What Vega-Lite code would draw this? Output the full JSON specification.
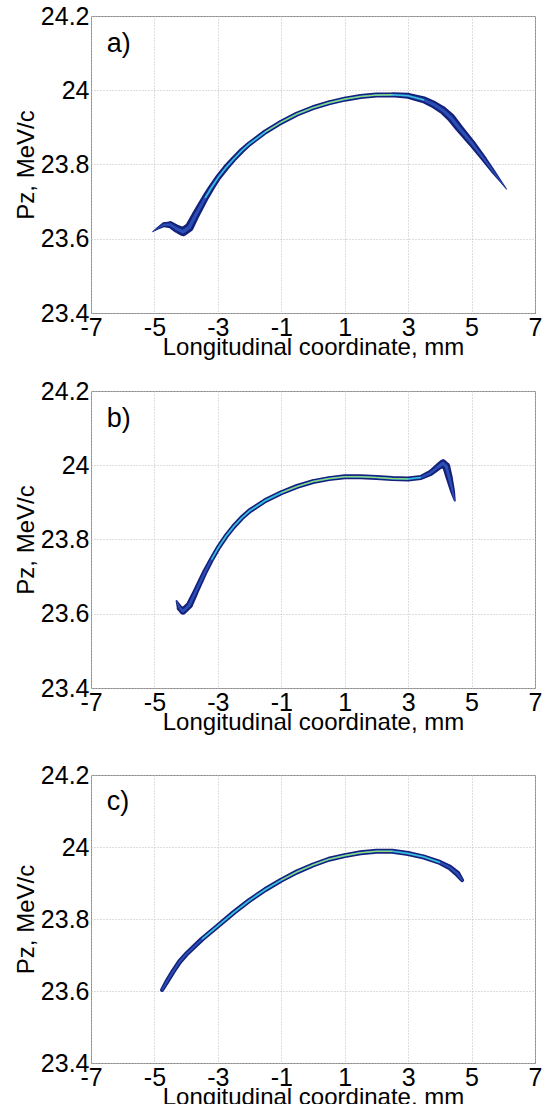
{
  "$schema": "https://vega.github.io/schema/vega-lite/v6.json",
  "padding": {"left": 13, "top": 3, "right": 1, "bottom": 0},
  "spacing": 18,
  "datasets": {
    "a": [
      {"i": 1, "x": -5.05, "y": 23.619, "w": 1},
      {"i": 2, "x": -4.9, "y": 23.628, "w": 2.5},
      {"i": 3, "x": -4.7, "y": 23.638, "w": 5},
      {"i": 4, "x": -4.5, "y": 23.638, "w": 7},
      {"i": 5, "x": -4.3, "y": 23.627, "w": 8},
      {"i": 6, "x": -4.1, "y": 23.619, "w": 9},
      {"i": 7, "x": -3.9, "y": 23.631, "w": 9},
      {"i": 8, "x": -3.7, "y": 23.664, "w": 8},
      {"i": 9, "x": -3.4, "y": 23.71, "w": 7},
      {"i": 10, "x": -3.2, "y": 23.738, "w": 6.5},
      {"i": 11, "x": -3.0, "y": 23.764, "w": 6},
      {"i": 12, "x": -2.75, "y": 23.791, "w": 6},
      {"i": 13, "x": -2.5, "y": 23.815, "w": 5.5},
      {"i": 14, "x": -2.25, "y": 23.837, "w": 5.5},
      {"i": 15, "x": -2.0, "y": 23.856, "w": 5},
      {"i": 16, "x": -1.5, "y": 23.888, "w": 5},
      {"i": 17, "x": -1.0, "y": 23.914, "w": 5},
      {"i": 18, "x": -0.5, "y": 23.936, "w": 5},
      {"i": 19, "x": 0.0, "y": 23.953, "w": 5},
      {"i": 20, "x": 0.5, "y": 23.966, "w": 5},
      {"i": 21, "x": 1.0, "y": 23.976, "w": 5},
      {"i": 22, "x": 1.5, "y": 23.983, "w": 5},
      {"i": 23, "x": 2.0, "y": 23.987, "w": 5},
      {"i": 24, "x": 2.5, "y": 23.988, "w": 5},
      {"i": 25, "x": 3.0, "y": 23.985, "w": 6},
      {"i": 26, "x": 3.5, "y": 23.974, "w": 7},
      {"i": 27, "x": 3.8, "y": 23.962, "w": 7.5},
      {"i": 28, "x": 4.1, "y": 23.946, "w": 8},
      {"i": 29, "x": 4.35, "y": 23.926, "w": 8.5},
      {"i": 30, "x": 4.6, "y": 23.899, "w": 8},
      {"i": 31, "x": 5.0, "y": 23.858, "w": 7},
      {"i": 32, "x": 5.4, "y": 23.814, "w": 5.5},
      {"i": 33, "x": 5.7, "y": 23.779, "w": 4},
      {"i": 34, "x": 5.95, "y": 23.751, "w": 2},
      {"i": 35, "x": 6.1, "y": 23.734, "w": 1}
    ],
    "b": [
      {"i": 1, "x": -4.3, "y": 23.634, "w": 2},
      {"i": 2, "x": -4.2, "y": 23.615, "w": 6},
      {"i": 3, "x": -4.1, "y": 23.607, "w": 7},
      {"i": 4, "x": -3.9, "y": 23.623, "w": 7},
      {"i": 5, "x": -3.7, "y": 23.659, "w": 6},
      {"i": 6, "x": -3.4, "y": 23.714, "w": 5.5},
      {"i": 7, "x": -3.2, "y": 23.746, "w": 5},
      {"i": 8, "x": -3.0, "y": 23.776, "w": 5},
      {"i": 9, "x": -2.75, "y": 23.808, "w": 5},
      {"i": 10, "x": -2.5, "y": 23.835, "w": 5},
      {"i": 11, "x": -2.25, "y": 23.858, "w": 5},
      {"i": 12, "x": -2.0, "y": 23.877, "w": 5},
      {"i": 13, "x": -1.5, "y": 23.905, "w": 5},
      {"i": 14, "x": -1.0, "y": 23.926, "w": 5},
      {"i": 15, "x": -0.5, "y": 23.943, "w": 5},
      {"i": 16, "x": 0.0, "y": 23.956, "w": 5},
      {"i": 17, "x": 0.5, "y": 23.964, "w": 5},
      {"i": 18, "x": 1.0, "y": 23.969, "w": 5},
      {"i": 19, "x": 1.5, "y": 23.969, "w": 5},
      {"i": 20, "x": 2.0, "y": 23.967, "w": 5},
      {"i": 21, "x": 2.5, "y": 23.964, "w": 5},
      {"i": 22, "x": 3.0, "y": 23.963, "w": 5},
      {"i": 23, "x": 3.4, "y": 23.967, "w": 5},
      {"i": 24, "x": 3.7, "y": 23.979, "w": 6},
      {"i": 25, "x": 3.95, "y": 23.996, "w": 7},
      {"i": 26, "x": 4.1, "y": 24.005, "w": 8},
      {"i": 27, "x": 4.2, "y": 23.997, "w": 8},
      {"i": 28, "x": 4.3, "y": 23.965, "w": 7},
      {"i": 29, "x": 4.4, "y": 23.93, "w": 5},
      {"i": 30, "x": 4.47, "y": 23.905, "w": 2}
    ],
    "c": [
      {"i": 1, "x": -4.76, "y": 23.603, "w": 4},
      {"i": 2, "x": -4.6, "y": 23.627, "w": 5},
      {"i": 3, "x": -4.4, "y": 23.656, "w": 5},
      {"i": 4, "x": -4.2, "y": 23.682, "w": 5},
      {"i": 5, "x": -4.0, "y": 23.702, "w": 5},
      {"i": 6, "x": -3.5, "y": 23.744, "w": 5},
      {"i": 7, "x": -3.0, "y": 23.781, "w": 5},
      {"i": 8, "x": -2.5, "y": 23.818, "w": 5},
      {"i": 9, "x": -2.0, "y": 23.852, "w": 5},
      {"i": 10, "x": -1.5, "y": 23.882, "w": 5},
      {"i": 11, "x": -1.0, "y": 23.908, "w": 5},
      {"i": 12, "x": -0.5, "y": 23.931, "w": 5},
      {"i": 13, "x": 0.0, "y": 23.95, "w": 5},
      {"i": 14, "x": 0.5, "y": 23.966, "w": 5},
      {"i": 15, "x": 1.0, "y": 23.976, "w": 5},
      {"i": 16, "x": 1.5, "y": 23.984, "w": 5},
      {"i": 17, "x": 2.0, "y": 23.988, "w": 5},
      {"i": 18, "x": 2.5, "y": 23.988, "w": 5},
      {"i": 19, "x": 3.0, "y": 23.982, "w": 5},
      {"i": 20, "x": 3.5, "y": 23.972, "w": 5},
      {"i": 21, "x": 4.0, "y": 23.957, "w": 5},
      {"i": 22, "x": 4.3, "y": 23.944, "w": 5.5},
      {"i": 23, "x": 4.55, "y": 23.926, "w": 6},
      {"i": 24, "x": 4.7, "y": 23.908, "w": 4}
    ],
    "labs": [{"lab": "a)"}, {"lab": "b)"}, {"lab": "c)"}]
  },
  "vconcat": [
    {
      "width": 444, "height": 297,
      "layer": [
        {"data": {"name": "a"}, "mark": {"type": "trail", "color": "#15207a"},
         "encoding": {
           "x": {"field": "x", "type": "quantitative", "scale": {"domain": [-7, 7], "nice": false}, "title": "Longitudinal coordinate, mm",
                 "axis": {"values": [-7, -5, -3, -1, 1, 3, 5, 7], "labelExpr": "datum.value < 0 ? '-' + abs(datum.value) : '' + datum.value"}},
           "y": {"field": "y", "type": "quantitative", "scale": {"domain": [23.4, 24.2], "nice": false, "zero": false}, "title": "Pz, MeV/c",
                 "axis": {"values": [23.4, 23.6, 23.8, 24, 24.2], "labelExpr": "datum.value == 24 ? '24' : format(datum.value, '.1f')"}},
           "order": {"field": "i", "type": "quantitative"},
           "size": {"field": "w", "type": "quantitative", "scale": null, "legend": null}}},
        {"data": {"name": "a"}, "mark": {"type": "trail", "color": "#2a4fb5"},
         "encoding": {"x": {"field": "x", "type": "quantitative"}, "y": {"field": "y", "type": "quantitative"}, "order": {"field": "i", "type": "quantitative"},
           "size": {"field": "w", "type": "quantitative", "scale": {"domain": [0, 10], "range": [0, 4]}, "legend": null}}},
        {"data": {"name": "a"}, "transform": [{"filter": {"field": "x", "range": [-3.6, 3.6]}}], "mark": {"type": "line", "color": "#35c3dc", "strokeWidth": 1.6},
         "encoding": {"x": {"field": "x", "type": "quantitative"}, "y": {"field": "y", "type": "quantitative"}, "order": {"field": "i", "type": "quantitative"}}},
        {"data": {"name": "a"}, "transform": [{"filter": {"field": "x", "range": [-1.5, 2.8]}}], "mark": {"type": "line", "color": "#b5dc48", "strokeWidth": 0.9},
         "encoding": {"x": {"field": "x", "type": "quantitative"}, "y": {"field": "y", "type": "quantitative"}, "order": {"field": "i", "type": "quantitative"}}},
        {"data": {"name": "labs"}, "transform": [{"filter": "datum.lab == 'a)'"}], "mark": {"type": "text", "fontSize": 27, "align": "left", "baseline": "middle", "font": "Liberation Sans"},
         "encoding": {"x": {"datum": -6.5}, "y": {"datum": 24.125}, "text": {"field": "lab"}}}
      ]
    },
    {
      "spacing": 27,
      "vconcat": [
        {
          "width": 444, "height": 297,
          "layer": [
            {"data": {"name": "b"}, "mark": {"type": "trail", "color": "#15207a"},
             "encoding": {
               "x": {"field": "x", "type": "quantitative", "scale": {"domain": [-7, 7], "nice": false}, "title": "Longitudinal coordinate, mm",
                     "axis": {"values": [-7, -5, -3, -1, 1, 3, 5, 7], "labelExpr": "datum.value < 0 ? '-' + abs(datum.value) : '' + datum.value"}},
               "y": {"field": "y", "type": "quantitative", "scale": {"domain": [23.4, 24.2], "nice": false, "zero": false}, "title": "Pz, MeV/c",
                     "axis": {"values": [23.4, 23.6, 23.8, 24, 24.2], "labelExpr": "datum.value == 24 ? '24' : format(datum.value, '.1f')"}},
               "order": {"field": "i", "type": "quantitative"},
               "size": {"field": "w", "type": "quantitative", "scale": null, "legend": null}}},
            {"data": {"name": "b"}, "mark": {"type": "trail", "color": "#2a4fb5"},
             "encoding": {"x": {"field": "x", "type": "quantitative"}, "y": {"field": "y", "type": "quantitative"}, "order": {"field": "i", "type": "quantitative"},
               "size": {"field": "w", "type": "quantitative", "scale": {"domain": [0, 10], "range": [0, 4]}, "legend": null}}},
            {"data": {"name": "b"}, "transform": [{"filter": {"field": "x", "range": [-3.3, 3.5]}}], "mark": {"type": "line", "color": "#35c3dc", "strokeWidth": 1.6},
             "encoding": {"x": {"field": "x", "type": "quantitative"}, "y": {"field": "y", "type": "quantitative"}, "order": {"field": "i", "type": "quantitative"}}},
            {"data": {"name": "b"}, "transform": [{"filter": {"field": "x", "range": [-1.0, 3.0]}}], "mark": {"type": "line", "color": "#b5dc48", "strokeWidth": 0.9},
             "encoding": {"x": {"field": "x", "type": "quantitative"}, "y": {"field": "y", "type": "quantitative"}, "order": {"field": "i", "type": "quantitative"}}},
            {"data": {"name": "labs"}, "transform": [{"filter": "datum.lab == 'b)'"}], "mark": {"type": "text", "fontSize": 27, "align": "left", "baseline": "middle", "font": "Liberation Sans"},
             "encoding": {"x": {"datum": -6.5}, "y": {"datum": 24.125}, "text": {"field": "lab"}}}
          ]
        },
        {
          "width": 444, "height": 288,
          "layer": [
            {"data": {"name": "c"}, "mark": {"type": "trail", "color": "#15207a"},
             "encoding": {
               "x": {"field": "x", "type": "quantitative", "scale": {"domain": [-7, 7], "nice": false}, "title": "Longitudinal coordinate, mm",
                     "axis": {"values": [-7, -5, -3, -1, 1, 3, 5, 7], "labelExpr": "datum.value < 0 ? '-' + abs(datum.value) : '' + datum.value"}},
               "y": {"field": "y", "type": "quantitative", "scale": {"domain": [23.4, 24.2], "nice": false, "zero": false}, "title": "Pz, MeV/c",
                     "axis": {"values": [23.4, 23.6, 23.8, 24, 24.2], "labelExpr": "datum.value == 24 ? '24' : format(datum.value, '.1f')"}},
               "order": {"field": "i", "type": "quantitative"},
               "size": {"field": "w", "type": "quantitative", "scale": null, "legend": null}}},
            {"data": {"name": "c"}, "mark": {"type": "trail", "color": "#2a4fb5"},
             "encoding": {"x": {"field": "x", "type": "quantitative"}, "y": {"field": "y", "type": "quantitative"}, "order": {"field": "i", "type": "quantitative"},
               "size": {"field": "w", "type": "quantitative", "scale": {"domain": [0, 10], "range": [0, 4]}, "legend": null}}},
            {"data": {"name": "c"}, "transform": [{"filter": {"field": "x", "range": [-3.5, 4.0]}}], "mark": {"type": "line", "color": "#35c3dc", "strokeWidth": 1.6},
             "encoding": {"x": {"field": "x", "type": "quantitative"}, "y": {"field": "y", "type": "quantitative"}, "order": {"field": "i", "type": "quantitative"}}},
            {"data": {"name": "c"}, "transform": [{"filter": {"field": "x", "range": [-1.0, 2.8]}}], "mark": {"type": "line", "color": "#b5dc48", "strokeWidth": 0.9},
             "encoding": {"x": {"field": "x", "type": "quantitative"}, "y": {"field": "y", "type": "quantitative"}, "order": {"field": "i", "type": "quantitative"}}},
            {"data": {"name": "labs"}, "transform": [{"filter": "datum.lab == 'c)'"}], "mark": {"type": "text", "fontSize": 27, "align": "left", "baseline": "middle", "font": "Liberation Sans"},
             "encoding": {"x": {"datum": -6.5}, "y": {"datum": 24.125}, "text": {"field": "lab"}}}
          ]
        }
      ]
    }
  ],
  "config": {
    "font": "Liberation Sans",
    "view": {"stroke": "#8c8c8c", "strokeWidth": 1},
    "axis": {
      "labelFont": "Liberation Sans", "labelFontSize": 25, "labelColor": "#000000", "labelPadding": 2,
      "labelFlush": false, "labelOverlap": false,
      "titleFont": "Liberation Sans", "titleFontSize": 24, "titleFontWeight": "normal", "titleColor": "#000000",
      "gridColor": "#bdbdbd", "gridDash": [1, 2], "gridWidth": 1,
      "domain": false, "ticks": false
    },
    "axisX": {"titlePadding": -5},
    "axisY": {"titlePadding": 2, "labelBaseline": "middle"}
  }
}
